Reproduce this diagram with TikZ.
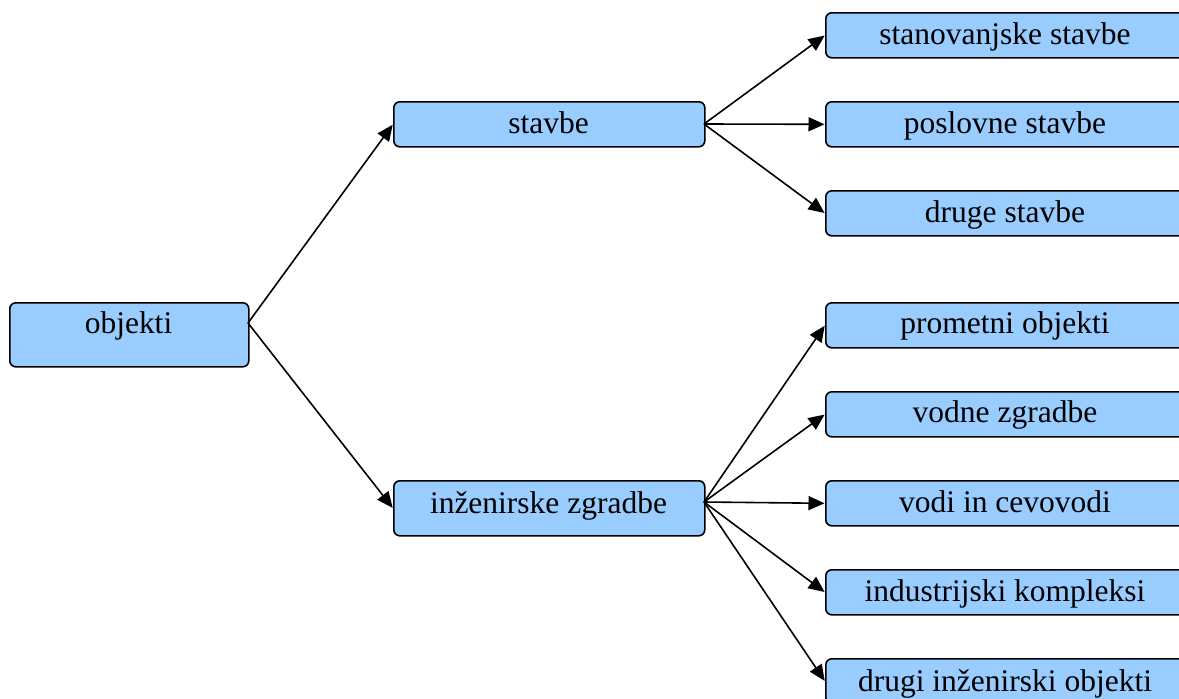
\documentclass[tikz,border=0pt]{standalone}
\usepackage{fontspec}
\setmainfont{Liberation Serif}
\usetikzlibrary{arrows.meta}
\definecolor{boxblue}{HTML}{99CCFF}
\tikzset{
  box/.style={draw=black, line width=1.6pt, fill=boxblue, rounded corners=6pt,
    inner sep=0pt, anchor=north west},
  lbl/.style={anchor=base, inner sep=0pt, font=\fontsize{31.5}{36}\selectfont},
  link/.style={line width=1.6pt, -{Triangle[length=16pt,width=14pt]}, shorten >=0.5pt}
}
\begin{document}
\begin{tikzpicture}[x=1pt,y=-1pt]
\useasboundingbox (0,0) rectangle (1179,699);
\clip (0,0) rectangle (1179,699);

% root
\node[box, minimum width=239pt, minimum height=64pt] (objekti) at (9,302) {};
\node[lbl] at (128.5,333) {objekti};

% second level
\node[box, minimum width=311pt, minimum height=45pt] (stavbe) at (393,101) {};
\node[lbl] at (548.5,133) {stavbe};
\node[box, minimum width=311pt, minimum height=55pt] (inz) at (393,480) {};
\node[lbl] at (548.5,513) {inženirske zgradbe};

% leaves of "stavbe"
\node[box, minimum width=360pt, minimum height=45pt] (stan) at (825,12) {};
\node[lbl] at (1005,44) {stanovanjske stavbe};
\node[box, minimum width=360pt, minimum height=45pt] (posl) at (825,101) {};
\node[lbl] at (1005,133) {poslovne stavbe};
\node[box, minimum width=360pt, minimum height=45pt] (drug) at (825,190) {};
\node[lbl] at (1005,222) {druge stavbe};

% leaves of "inženirske zgradbe"
\node[box, minimum width=360pt, minimum height=45pt] (prom) at (825,302) {};
\node[lbl] at (1005,333) {prometni objekti};
\node[box, minimum width=360pt, minimum height=45pt] (vodn) at (825,391) {};
\node[lbl] at (1005,422) {vodne zgradbe};
\node[box, minimum width=360pt, minimum height=45pt] (vodi) at (825,480) {};
\node[lbl] at (1005,512) {vodi in cevovodi};
\node[box, minimum width=360pt, minimum height=45pt] (indu) at (825,569) {};
\node[lbl] at (1005,601) {industrijski kompleksi};
\node[box, minimum width=360pt, minimum height=45pt] (drin) at (825,658) {};
\node[lbl] at (1005,691) {drugi inženirski objekti};

% connector origins
\coordinate (objOut) at (248,323);
\coordinate (stOut) at (704,124);
\coordinate (izOut) at (704,502);

\draw[link] (objOut) -- (stavbe.west);
\draw[link] (objOut) -- (inz.west);

\draw[link] (stOut) -- (stan.west);
\draw[link] (stOut) -- (posl.west);
\draw[link] (stOut) -- (drug.west);

\draw[link] (izOut) -- (prom.west);
\draw[link] (izOut) -- (vodn.west);
\draw[link] (izOut) -- (vodi.west);
\draw[link] (izOut) -- (indu.west);
\draw[link] (izOut) -- (drin.west);
\end{tikzpicture}
\end{document}
